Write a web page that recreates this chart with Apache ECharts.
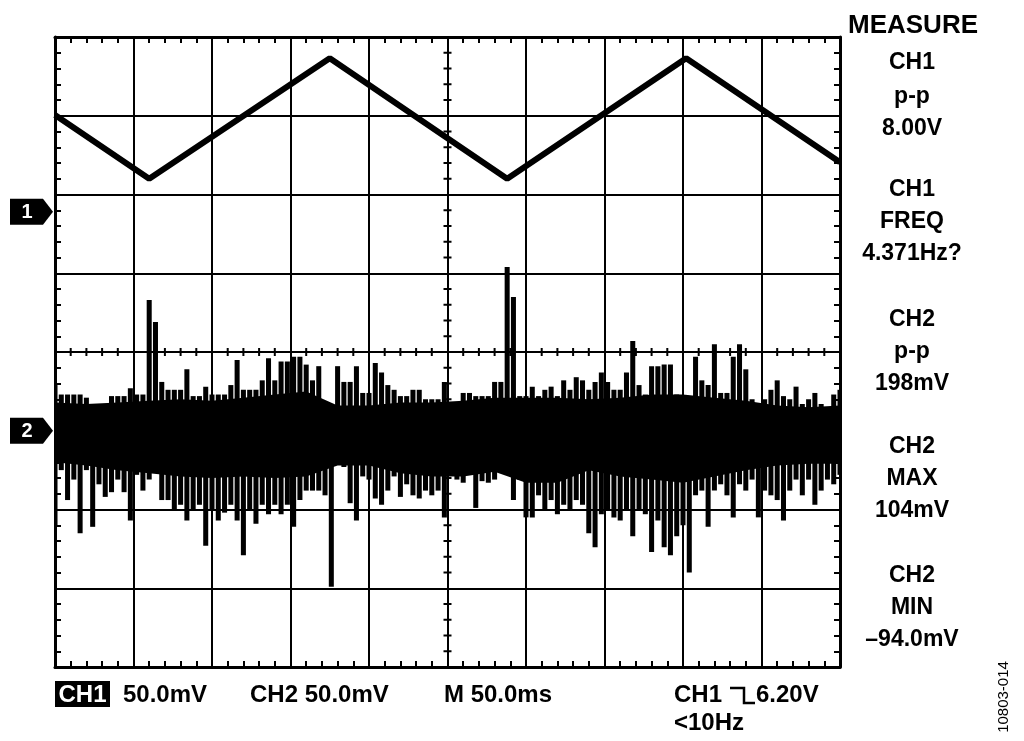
<!DOCTYPE html>
<html>
<head>
<meta charset="utf-8">
<script src="https://cdn.jsdelivr.net/npm/echarts@6/dist/echarts.min.js"></script>
<style>
  html, body { margin: 0; padding: 0; background: #fff; }
  #main { width: 1024px; height: 741px; }
</style>
</head>
<body>
<div id="main"></div>
<script>
// 时间轴 (ms)，10 格 x 50ms
const timeMin = 0
const timeMax = 500
const timeDiv = 50
// 纵轴以格为单位，8 格
const divMin = -4
const divMax = 4

// CH1 三角波（相对 CH1 零位的格数）
const ch1Offset = 1.78
const ch1Times = [0, 60, 175, 288, 402, 500]
const ch1Div = [1.23, 0.42, 1.95, 0.42, 1.95, 0.63]

// CH2 噪声 (mV)，零位在 -1 格，50mV/格
const ch2Offset = -1.0
const ch2Scale = 50
// 每 4ms 一个采样的峰值包络
const ch2Step = 4
const ch2Hi = [
  29, 23, 23, 23, 23, 21, 15, 15, 15, 22, 22, 22, 27, 23, 23,
  83, 69, 31, 26, 26, 26, 39, 22, 22, 28, 23, 23, 23, 29, 45,
  26, 26, 26, 32, 46, 32, 44, 44, 47, 47, 42, 32, 41, 10, 13,
  41, 31, 31, 41, 24, 24, 43, 37, 29, 26, 22, 22, 26, 26, 20,
  20, 20, 31, 18, 18, 24, 24, 22, 22, 22, 31, 31, 104, 85, 22,
  22, 28, 22, 26, 28, 22, 32, 26, 34, 32, 26, 31, 37, 31, 26,
  26, 37, 57, 29, 23, 41, 41, 42, 42, 23, 20, 20, 47, 32, 29,
  55, 24, 24, 47, 55, 39, 20, 17, 20, 26, 32, 22, 20, 28, 17,
  20, 24, 17, 13, 23, 26
]
const ch2Lo = [
  -61, -25, -44, -31, -65, -25, -61, -34, -42, -39, -31, -39, -57, -28, -38,
  -31, -25, -44, -44, -50, -47, -57, -50, -47, -73, -50, -57, -52, -47, -57,
  -79, -50, -59, -47, -53, -47, -53, -47, -61, -44, -38, -38, -38, -41, -99,
  -18, -23, -46, -57, -29, -31, -43, -47, -38, -29, -42, -34, -41, -43, -38,
  -41, -38, -55, -28, -31, -33, -28, -49, -32, -33, -31, -12, -12, -44, -31,
  -55, -55, -41, -50, -44, -53, -47, -50, -44, -47, -65, -74, -53, -50, -55,
  -57, -50, -67, -50, -53, -77, -57, -74, -79, -67, -60, -90, -41, -38, -61,
  -38, -34, -41, -55, -34, -38, -31, -55, -38, -41, -44, -57, -38, -31, -41,
  -31, -47, -38, -31, -34, -28
]
// 每 20ms 一个采样的实心噪声带
const coreStep = 20
const ch2CoreHi = [18, 17, 18, 19, 20, 19, 21, 23, 25, 16, 16, 18, 18, 19, 21, 21, 21, 20, 21, 23, 23, 21, 19, 16, 15, 16]
const ch2CoreLo = [-20, -22, -25, -27, -29, -30, -29, -30, -29, -22, -22, -27, -29, -29, -26, -33, -33, -25, -29, -31, -33, -29, -25, -22, -21, -21]

// 右侧测量值
const measureLines = [
  ['CH1', 63], ['p-p', 97], ['8.00V', 129],
  ['CH1', 190], ['FREQ', 222], ['4.371Hz?', 254],
  ['CH2', 320], ['p-p', 352], ['198mV', 384],
  ['CH2', 447], ['MAX', 479], ['104mV', 511],
  ['CH2', 576], ['MIN', 608], ['\u201394.0mV', 640]
]

const FONT = '"Liberation Sans", Arial, sans-serif'

const toDiv = mv => ch2Offset + mv / ch2Scale
const ch1Data = ch1Times.map((t, i) => [t, ch1Offset + ch1Div[i]])
const spikeData = ch2Hi.map((hi, i) => [i * ch2Step, toDiv(hi), toDiv(ch2Lo[i])])

// 中心十字线上的小刻度
const crossTicks = []
for (let t = timeMin; t <= timeMax; t += timeDiv / 5) {
  if (t % timeDiv !== 0) crossTicks.push([t, 0, 0])
}
for (let k = 1; k < 40; k++) {
  const v = divMin + k * 0.2
  if (k % 5 !== 0) crossTicks.push([(timeMin + timeMax) / 2, v, 1])
}

const axisBase = (pos, isX, split) => ({
  type: 'value',
  position: pos,
  min: isX ? timeMin : divMin,
  max: isX ? timeMax : divMax,
  interval: isX ? timeDiv : 1,
  axisLine: { show: true, onZero: false, lineStyle: { color: '#000', width: 3 } },
  axisTick: { show: true, inside: true, length: 6, lineStyle: { color: '#000', width: 2 } },
  minorTick: { show: true, splitNumber: 5, length: 6, lineStyle: { color: '#000', width: 2 } },
  axisLabel: { show: false },
  splitLine: { show: split, lineStyle: { color: '#000', width: 2 } },
  minorSplitLine: { show: false }
})

const chart = echarts.init(document.getElementById('main'))

chart.setOption({
  animation: false,
  backgroundColor: '#fff',
  grid: { left: 55, right: 184, top: 37, bottom: 74 },
  xAxis: [axisBase('bottom', true, true), axisBase('top', true, false)],
  yAxis: [axisBase('left', false, true), axisBase('right', false, false)],
  series: [
    {
      type: 'custom',
      z: 2,
      data: crossTicks,
      renderItem: (params, api) => {
        const p = api.coord([api.value(0), api.value(1)])
        const vertical = api.value(2) === 0
        return {
          type: 'line',
          shape: vertical
            ? { x1: p[0], y1: p[1] - 4, x2: p[0], y2: p[1] + 4 }
            : { x1: p[0] - 4, y1: p[1], x2: p[0] + 4, y2: p[1] },
          style: { stroke: '#000', lineWidth: 2 }
        }
      }
    },
    {
      // CH2 实心噪声带
      type: 'custom',
      z: 3,
      data: [[0, 0]],
      renderItem: (params, api) => {
        const top = ch2CoreHi.map((v, i) => api.coord([i * coreStep, toDiv(v)]))
        const bottom = ch2CoreLo.map((v, i) => api.coord([i * coreStep, toDiv(v)])).reverse()
        return {
          type: 'polygon',
          shape: { points: top.concat(bottom) },
          style: { fill: '#000' }
        }
      }
    },
    {
      // CH2 毛刺
      type: 'custom',
      z: 3,
      data: spikeData,
      renderItem: (params, api) => {
        const p1 = api.coord([api.value(0), api.value(1)])
        const p2 = api.coord([api.value(0), api.value(2)])
        const w = api.size([ch2Step, 0])[0] * 0.8
        const x0 = Math.max(p1[0] - w / 2, params.coordSys.x)
        const x1 = Math.min(p1[0] + w / 2, params.coordSys.x + params.coordSys.width)
        return {
          type: 'rect',
          shape: { x: x0, y: p1[1], width: x1 - x0, height: p2[1] - p1[1] },
          style: { fill: '#000' }
        }
      }
    },
    {
      type: 'line',
      z: 4,
      data: ch1Data,
      symbol: 'none',
      lineStyle: { color: '#000', width: 6 }
    }
  ]
})

const y1 = chart.convertToPixel({ seriesIndex: 3 }, [0, ch1Offset])[1]
const y2 = chart.convertToPixel({ seriesIndex: 3 }, [0, ch2Offset])[1]

const marker = (y, label) => [
  {
    type: 'polygon',
    shape: { points: [[10, y - 13], [43, y - 13], [53, y], [43, y + 13], [10, y + 13]] },
    style: { fill: '#000' }
  },
  {
    type: 'text',
    style: { text: label, x: 27, y: y + 1, font: 'bold 20px ' + FONT, fill: '#fff', textAlign: 'center', textVerticalAlign: 'middle', align: 'center', verticalAlign: 'middle' }
  }
]

const txt = (text, x, y, size, align, color) => ({
  type: 'text',
  style: {
    text, x, y,
    font: 'bold ' + size + 'px ' + FONT,
    fill: color || '#000',
    textAlign: align, align: align,
    textVerticalAlign: 'middle', verticalAlign: 'middle'
  }
})

const graphics = []
  .concat(marker(y1, '1'))
  .concat(marker(y2, '2'))
  .concat([txt('MEASURE', 913, 26, 26, 'center')])
  .concat(measureLines.map(([s, y]) => txt(s, 912, y, 23, 'center')))
  .concat([
    { type: 'rect', shape: { x: 55, y: 681, width: 55, height: 26 }, style: { fill: '#000' } },
    txt('CH1', 82.5, 695, 24, 'center', '#fff'),
    txt('50.0mV', 123, 695, 24, 'left'),
    txt('CH2 50.0mV', 250, 695, 24, 'left'),
    txt('M 50.0ms', 444, 695, 24, 'left'),
    txt('CH1', 674, 695, 24, 'left'),
    {
      type: 'polyline',
      shape: { points: [[730, 688], [744, 688], [744, 703], [755, 703]] },
      style: { stroke: '#000', lineWidth: 2.5, fill: null }
    },
    txt('6.20V', 756, 695, 24, 'left'),
    txt('<10Hz', 674, 723, 24, 'left'),
    {
      type: 'text',
      x: 1004, y: 697, rotation: Math.PI / 2,
      style: { text: '10803-014', x: 0, y: 0, font: '15px ' + FONT, fill: '#000', textAlign: 'center', align: 'center', textVerticalAlign: 'middle', verticalAlign: 'middle' }
    }
  ])

chart.setOption({ graphic: { elements: graphics } })
</script>
</body>
</html>
